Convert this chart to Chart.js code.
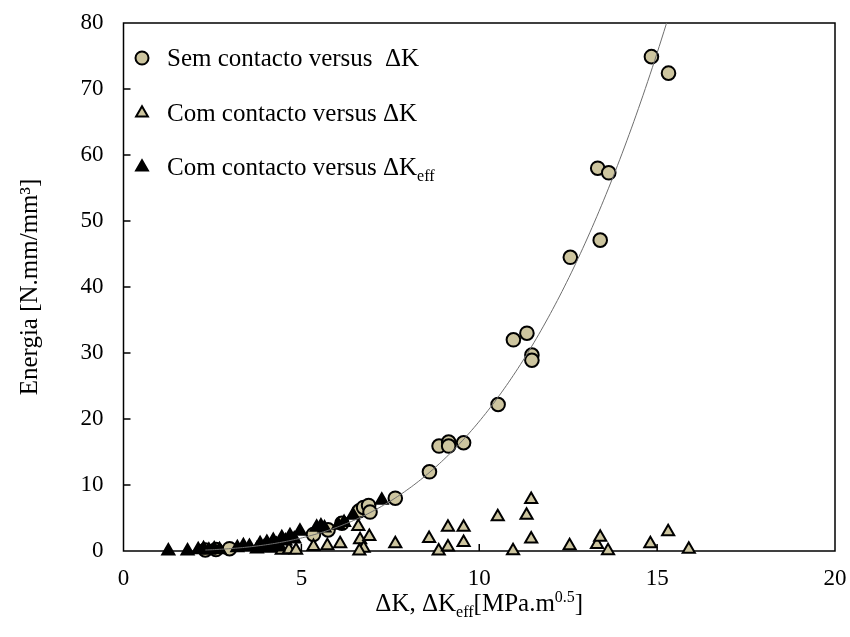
<!DOCTYPE html>
<html>
<head>
<meta charset="utf-8">
<script src="https://cdn.jsdelivr.net/npm/chart.js@4.4.1/dist/chart.umd.min.js"></script>
<style>
  html, body { margin: 0; padding: 0; background: #ffffff; }
  #wrap { width: 850px; height: 637px; }
</style>
</head>
<body>
<div id="wrap"><canvas id="chart" width="850" height="637"></canvas></div>
<script>
// Sem contacto versus ΔK
const semX = [2.30, 2.60, 2.98, 5.34, 5.75, 6.14, 6.63, 6.75, 6.89, 6.93, 7.64, 8.60, 8.87, 9.14, 9.14, 9.56, 10.53, 10.96, 11.34, 11.48, 11.48, 12.56, 13.33, 13.40, 13.64, 14.84, 15.32];
const semY = [0.15, 0.22, 0.35, 2.5, 3.2, 4.2, 6.1, 6.6, 6.9, 5.9, 8.0, 12.0, 15.9, 16.5, 15.9, 16.4, 22.2, 32.0, 33.0, 29.7, 28.9, 44.5, 58.0, 47.1, 57.3, 74.9, 72.4];

// Com contacto versus ΔK
const comX = [4.45, 4.65, 4.85, 5.34, 5.73, 6.09, 6.60, 6.65, 6.91, 6.75, 6.63, 7.64, 8.59, 8.86, 9.12, 9.12, 9.56, 9.56, 10.52, 10.95, 11.33, 11.46, 11.46, 12.54, 13.31, 13.40, 13.62, 14.81, 15.31, 15.89];
const comY = [0.1, 0.2, 0.1, 0.7, 0.8, 1.1, 3.7, 1.7, 2.2, 0.4, 0.0, 1.1, 1.9, 0.0, 3.6, 0.6, 3.6, 1.3, 5.2, 0.05, 5.4, 7.8, 1.8, 0.8, 1.0, 2.1, 0.05, 1.1, 2.9, 0.25];

// Com contacto versus ΔKeff
const effX = [1.26, 1.80, 2.10, 2.25, 2.40, 2.55, 2.70, 3.20, 3.37, 3.54, 3.75, 3.84, 3.95, 4.03, 4.10, 4.21, 4.30, 4.35, 4.45, 4.55, 4.68, 4.80, 4.96, 5.43, 5.55, 5.65, 6.04, 6.20, 6.45, 7.26];
const effY = [0.0, 0.0, 0.2, 0.35, 0.1, 0.3, 0.2, 0.5, 0.8, 0.7, 0.3, 1.1, 0.6, 1.3, 0.4, 1.6, 1.0, 0.6, 2.0, 1.5, 2.3, 1.8, 3.0, 3.6, 3.8, 3.5, 3.9, 4.3, 5.4, 7.7];

const xTicks = [0, 5, 10, 15, 20];
const yTicks = [0, 10, 20, 30, 40, 50, 60, 70, 80];

// Power trendline of the "sem contacto" series: y = a · x^b
const trendA = 0.0094;
const trendB = 3.32;

const legendLabels = [
  { text: 'Sem contacto versus  ΔK', sub: '' },
  { text: 'Com contacto versus ΔK', sub: '' },
  { text: 'Com contacto versus ΔK', sub: 'eff' }
];
const yTitle = 'Energia [N.mm/mm³]';

const SERIF = "'Liberation Serif', 'Times New Roman', serif";
const TAN = '#cdc59f';

function toPoints(xs, ys) {
  return xs.map((x, i) => ({ x: x, y: ys[i] }));
}

// Trendline sampled over the x range of its series
const trend = [];
{
  const x0 = Math.min(...semX), x1 = Math.max(...semX);
  const steps = 200;
  for (let i = 0; i <= steps; i++) {
    const x = x0 + (x1 - x0) * i / steps;
    trend.push({ x: x, y: trendA * Math.pow(x, trendB) });
  }
}

// Plot frame with inward tick marks
const framePlugin = {
  id: 'frame',
  beforeDatasetsDraw(chart) {
    const { ctx, chartArea: a, scales } = chart;
    ctx.save();
    ctx.strokeStyle = '#000';
    ctx.lineWidth = 1.5;
    ctx.strokeRect(a.left, a.top, a.right - a.left, a.bottom - a.top);
    ctx.beginPath();
    yTicks.forEach(v => {
      const py = scales.y.getPixelForValue(v);
      if (py > a.top + 1 && py < a.bottom - 1) {
        ctx.moveTo(a.left, py);
        ctx.lineTo(a.left + 7, py);
      }
    });
    xTicks.forEach(v => {
      const px = scales.x.getPixelForValue(v);
      if (px > a.left + 1 && px < a.right - 1) {
        ctx.moveTo(px, a.bottom);
        ctx.lineTo(px, a.bottom - 7);
      }
    });
    ctx.stroke();
    ctx.restore();
  }
};

// Draws text made of normal / subscript / superscript runs
function richText(ctx, runs, x, y, size, align) {
  const widths = runs.map(r => {
    ctx.font = (r.kind === 'n' ? size : Math.round(size * 0.65)) + 'px ' + SERIF;
    return ctx.measureText(r.t).width;
  });
  const total = widths.reduce((s, w) => s + w, 0);
  let cx = align === 'center' ? x - total / 2 : x;
  runs.forEach((r, i) => {
    const s = r.kind === 'n' ? size : Math.round(size * 0.65);
    ctx.font = s + 'px ' + SERIF;
    let dy = 0;
    if (r.kind === 'sub') dy = size * 0.22;
    if (r.kind === 'sup') dy = -size * 0.38;
    ctx.fillText(r.t, cx, y + dy);
    cx += widths[i];
  });
}

const textPlugin = {
  id: 'texts',
  afterDraw(chart) {
    const { ctx, chartArea: a } = chart;
    ctx.save();
    ctx.fillStyle = '#000';
    ctx.textBaseline = 'alphabetic';
    ctx.textAlign = 'left';

    // x-axis title
    richText(ctx, [
      { t: 'ΔK, ΔK', kind: 'n' },
      { t: 'eff', kind: 'sub' },
      { t: '[MPa.m', kind: 'n' },
      { t: '0.5', kind: 'sup' },
      { t: ']', kind: 'n' }
    ], (a.left + a.right) / 2, 611, 25, 'center');

    // y-axis title
    ctx.save();
    ctx.translate(30, (a.top + a.bottom) / 2);
    ctx.rotate(-Math.PI / 2);
    ctx.textAlign = 'center';
    ctx.textBaseline = 'middle';
    ctx.font = '25px ' + SERIF;
    ctx.fillText(yTitle, 0, 0);
    ctx.restore();

    // legend
    const rows = [58, 113, 167];
    const styles = [
      { shape: 'circle', fill: TAN },
      { shape: 'triangle', fill: TAN },
      { shape: 'triangle', fill: '#000' }
    ];
    rows.forEach((ry, i) => {
      const st = styles[i];
      ctx.beginPath();
      if (st.shape === 'circle') {
        ctx.arc(142, ry, 6.5, 0, Math.PI * 2);
      } else {
        const r = 6.8;
        ctx.moveTo(142, ry - r);
        ctx.lineTo(142 + r * Math.sin(2 * Math.PI / 3), ry - r * Math.cos(2 * Math.PI / 3));
        ctx.lineTo(142 + r * Math.sin(4 * Math.PI / 3), ry - r * Math.cos(4 * Math.PI / 3));
        ctx.closePath();
      }
      ctx.fillStyle = st.fill;
      ctx.fill();
      ctx.lineWidth = 2;
      ctx.strokeStyle = '#000';
      ctx.stroke();
      ctx.fillStyle = '#000';
      const lab = legendLabels[i];
      const runs = [{ t: lab.text, kind: 'n' }];
      if (lab.sub) runs.push({ t: lab.sub, kind: 'sub' });
      richText(ctx, runs, 167, ry + 8, 25, 'left');
    });
    ctx.restore();
  }
};

// Keeps the plot area fixed: no extra room reserved for the end tick labels
function fixScale(size) {
  return function (scale) {
    if (scale.isHorizontal()) scale.height = size; else scale.width = size;
    scale.paddingTop = 0;
    scale.paddingBottom = 0;
    scale.paddingLeft = 0;
    scale.paddingRight = 0;
  };
}

new Chart(document.getElementById('chart'), {
  type: 'scatter',
  data: {
    datasets: [
      {
        label: 'Tendência',
        type: 'line',
        data: trend,
        borderColor: '#6e6e6e',
        borderWidth: 1,
        pointRadius: 0,
        fill: false,
        tension: 0,
        order: 0
      },
      {
        label: 'Com contacto versus ΔKeff',
        data: toPoints(effX, effY),
        pointStyle: 'triangle',
        pointRadius: 7,
        pointBackgroundColor: '#000',
        pointBorderColor: '#000',
        pointBorderWidth: 2,
        clip: false,
        order: 1
      },
      {
        label: 'Com contacto versus ΔK',
        data: toPoints(comX, comY),
        pointStyle: 'triangle',
        pointRadius: 7,
        pointBackgroundColor: TAN,
        pointBorderColor: '#000',
        pointBorderWidth: 2,
        clip: false,
        order: 2
      },
      {
        label: 'Sem contacto versus ΔK',
        data: toPoints(semX, semY),
        pointStyle: 'circle',
        pointRadius: 6.8,
        pointBackgroundColor: TAN,
        pointBorderColor: '#000',
        pointBorderWidth: 2,
        clip: false,
        order: 3
      }
    ]
  },
  options: {
    responsive: false,
    animation: false,
    events: [],
    layout: { padding: { top: 23, right: 15, left: 0, bottom: 0 } },
    plugins: {
      legend: { display: false },
      tooltip: { enabled: false },
      title: { display: false }
    },
    scales: {
      x: {
        type: 'linear',
        min: 0,
        max: 20,
        afterBuildTicks(scale) { scale.ticks = xTicks.map(v => ({ value: v })); },
        afterFit: fixScale(86),
        grid: { display: false, drawTicks: false },
        border: { display: false },
        ticks: {
          padding: 14,
          color: '#000',
          font: { family: SERIF, size: 23 }
        }
      },
      y: {
        type: 'linear',
        min: 0,
        max: 80,
        afterBuildTicks(scale) { scale.ticks = yTicks.map(v => ({ value: v })); },
        afterFit: fixScale(123.5),
        grid: { display: false, drawTicks: false },
        border: { display: false },
        ticks: {
          padding: 20,
          color: '#000',
          font: { family: SERIF, size: 23 }
        }
      }
    }
  },
  plugins: [framePlugin, textPlugin]
});
</script>
</body>
</html>
